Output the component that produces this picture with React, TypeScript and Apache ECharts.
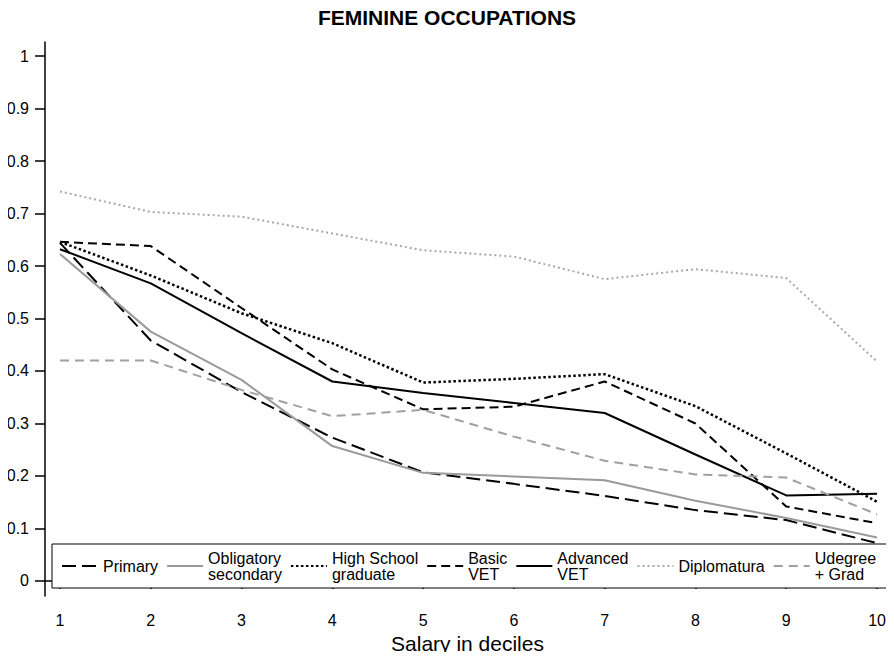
import React, { useEffect, useRef } from "react";
import * as echarts from "echarts";

const deciles = [1, 2, 3, 4, 5, 6, 7, 8, 9, 10];
const yTicks = [0, 0.1, 0.2, 0.3, 0.4, 0.5, 0.6, 0.7, 0.8, 0.9, 1];

const primary = [0.644, 0.458, 0.36, 0.273, 0.207, 0.185, 0.162, 0.135, 0.116, 0.072];
const obligatory = [0.623, 0.475, 0.383, 0.257, 0.206, 0.199, 0.192, 0.153, 0.12, 0.083];
const highSchool = [0.646, 0.582, 0.51, 0.453, 0.378, 0.385, 0.394, 0.333, 0.243, 0.151];
const basicVet = [0.646, 0.638, 0.52, 0.403, 0.327, 0.332, 0.38, 0.3, 0.142, 0.11];
const advancedVet = [0.632, 0.567, 0.472, 0.38, 0.358, 0.339, 0.32, 0.241, 0.163, 0.166];
const diplomatura = [0.742, 0.703, 0.694, 0.662, 0.63, 0.618, 0.575, 0.594, 0.577, 0.418];
const udegree = [0.42, 0.42, 0.364, 0.314, 0.326, 0.275, 0.229, 0.203, 0.197, 0.127];

const seriesNames = [
  "Primary",
  "Obligatory\nsecondary",
  "High School\ngraduate",
  "Basic\nVET",
  "Advanced\nVET",
  "Diplomatura",
  "Udegree\n+ Grad",
];

const FONT = "Liberation Sans, Arial, sans-serif";

export default function App() {
  const ref = useRef<HTMLDivElement>(null);
  useEffect(() => {
    if (!ref.current) return;
    const chart = echarts.init(ref.current, null, { renderer: "svg" });
    const mk = (name: string, vals: number[], color: string, width: number, type: any) => ({
      name,
      type: "line",
      data: deciles.map((d, i) => [d, vals[i]]),
      symbol: "none",
      showSymbol: false,
      lineStyle: { color, width, type },
      itemStyle: { color },
      z: 2,
    });
    chart.setOption({
      animation: false,
      backgroundColor: "#fff",
      title: {
        text: "FEMININE OCCUPATIONS",
        left: "center",
        top: 2,
        textStyle: { fontFamily: FONT, fontSize: 21, fontWeight: "bold", color: "#000" },
      },
      grid: { left: 45, right: 4, top: 42, bottom: 64, containLabel: false, outerBoundsMode: "none" },
      legend: {
        left: 52,
        top: 544,
        orient: "horizontal",
        itemWidth: 36,
        itemHeight: 14,
        itemGap: 8,
        padding: [6, 16, 6, 9],
        backgroundColor: "#fff",
        borderColor: "#000",
        borderWidth: 1,
        borderRadius: 0,
        itemStyle: { opacity: 0 },
        textStyle: { fontFamily: FONT, fontSize: 16, lineHeight: 16, color: "#000" },
        data: seriesNames,
      },
      xAxis: {
        type: "value",
        min: 0.835,
        max: 10.143,
        name: "Salary in deciles",
        nameLocation: "middle",
        nameGap: 33,
        nameTextStyle: { fontFamily: FONT, fontSize: 21, color: "#000" },
        splitLine: { show: false },
        axisLine: { lineStyle: { color: "#000", width: 1.5 } },
        axisTick: { customValues: deciles, length: 8, lineStyle: { color: "#000", width: 1.5 } },
        axisLabel: { customValues: deciles, margin: 16, fontFamily: FONT, fontSize: 16, color: "#000" },
      },
      yAxis: {
        type: "value",
        min: -0.0286,
        max: 1.0267,
        splitLine: { show: false },
        axisLine: { show: true, lineStyle: { color: "#000", width: 1.5 } },
        axisTick: { show: true, customValues: yTicks, length: 10, lineStyle: { color: "#000", width: 1.5 } },
        axisLabel: { customValues: yTicks, margin: 16, fontFamily: FONT, fontSize: 16, color: "#000" },
      },
      series: [
        mk(seriesNames[0], primary, "#000", 2, [14, 6]),
        mk(seriesNames[1], obligatory, "#9a9a9a", 2, "solid"),
        mk(seriesNames[2], highSchool, "#000", 2.5, [2.5, 2.5]),
        mk(seriesNames[3], basicVet, "#000", 2, [9, 5]),
        mk(seriesNames[4], advancedVet, "#000", 2, "solid"),
        mk(seriesNames[5], diplomatura, "#a8a8a8", 2, [2, 3]),
        mk(seriesNames[6], udegree, "#a0a0a0", 2, [9, 6]),
      ],
    });
    return () => chart.dispose();
  }, []);
  return <div ref={ref} style={{ width: 894, height: 660, margin: -8 }} />;
}
